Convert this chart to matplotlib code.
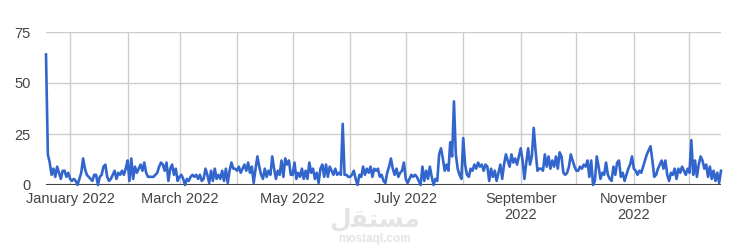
import pandas as pd
import matplotlib.pyplot as plt

plt.rcParams["font.family"] = ["Liberation Sans", "DejaVu Sans"]

# daily values, 19 Dec 2021 .. 18 Dec 2022
dec_2021 = [64, 15, 11, 5, 8, 4, 9, 6, 3, 7, 7, 4, 6]
jan = [3, 2, 3, 2, 0, 3, 6, 13, 8, 5, 4, 3, 2, 5, 5, 0, 4, 5, 9, 10, 4, 2, 3, 5, 7, 3, 6, 5, 7, 5, 8]
feb = [12, 2, 13, 3, 9, 6, 8, 10, 7, 11, 6, 4, 4, 4, 4, 5, 6, 9, 11, 10, 7, 11, 2, 8, 10, 5, 8, 2]
mar = [4, 5, 3, 0, 3, 2, 4, 5, 4, 5, 3, 5, 2, 3, 8, 5, 1, 7, 2, 8, 3, 5, 3, 7, 2, 8, 1, 7, 11, 8, 8]
apr = [7, 9, 6, 8, 10, 7, 11, 6, 9, 1, 8, 14, 9, 5, 3, 8, 4, 7, 5, 14, 8, 3, 7, 5, 12, 4, 13, 10, 12, 5]
may = [5, 11, 3, 6, 4, 8, 3, 7, 3, 11, 6, 8, 3, 6, 1, 8, 10, 4, 10, 4, 9, 7, 5, 8, 5, 6, 5, 30, 5, 5, 4]
jun = [4, 5, 7, 3, 0, 5, 4, 9, 5, 8, 6, 9, 4, 8, 7, 8, 4, 5, 2, 1, 6, 9, 13, 8, 5, 8, 4, 6, 7, 11]
jul = [3, 1, 3, 5, 4, 5, 4, 2, 0, 9, 2, 7, 3, 9, 4, 0, 3, 2, 15, 18, 13, 7, 10, 7, 21, 14, 41, 15, 8, 5, 3]
aug = [23, 10, 5, 4, 8, 7, 10, 8, 11, 9, 10, 7, 10, 9, 2, 8, 4, 7, 2, 6, 10, 3, 10, 15, 12, 9, 15, 11, 13, 10, 14]
sep = [18, 12, 3, 11, 18, 10, 14, 28, 17, 7, 8, 8, 7, 15, 9, 14, 8, 12, 9, 14, 8, 16, 14, 6, 5, 6, 9, 15, 12, 9]
oct_ = [7, 7, 9, 8, 10, 9, 12, 4, 12, 0, 2, 14, 9, 3, 6, 5, 11, 5, 3, 2, 9, 5, 11, 12, 4, 6, 2, 5, 8, 10, 14]
nov = [8, 7, 5, 7, 6, 9, 12, 15, 17, 19, 12, 4, 5, 8, 10, 12, 8, 12, 5, 2, 6, 5, 8, 3, 8, 6, 9, 7, 5, 8]
dec_2022 = [6, 22, 5, 12, 4, 10, 14, 12, 8, 10, 4, 9, 3, 7, 2, 6, 1, 7]

values = dec_2021 + jan + feb + mar + apr + may + jun + jul + aug + sep + oct_ + nov + dec_2022
dates = pd.date_range("2021-12-19", periods=len(values), freq="D")

month_ticks = pd.date_range("2022-01-01", "2022-12-01", freq="MS")
month_labels = ["January 2022", "", "March 2022", "", "May 2022", "", "July 2022", "",
                "September\n2022", "", "November\n2022", ""]
y_ticks = [0, 25, 50, 75]

fig = plt.figure(figsize=(7.52, 2.48), dpi=100)
ax = fig.add_axes([46 / 752, 63 / 248, 675 / 752, 153 / 248])

ax.plot(dates, values, color="#3366cc", lw=1.9, zorder=3, clip_on=False)
ax.axhline(0, color="#444444", lw=1.5, zorder=2)

ax.set_xlim(dates[0], dates[-1])
ax.set_ylim(0, 75)
ax.set_yticks(y_ticks)
ax.set_xticks(month_ticks)
ax.set_xticklabels(month_labels)
ax.grid(color="#cccccc", lw=1, zorder=1)
for s in ax.spines.values():
    s.set_visible(False)
ax.tick_params(length=0, labelsize=10.5, labelcolor="#444444")
ax.tick_params(axis="y", pad=11)
ax.tick_params(axis="x", pad=5)

# watermark
fig.text(375 / 752, 0.115, "\ufedd\ufed8\ufe98\ufeb4\ufee3", ha="center", va="center",
         fontsize=18, fontweight="bold", color="#e4e4e4", family="DejaVu Sans", zorder=0)
fig.text(375 / 752, 0.035, "mostaql.com", ha="center", va="center",
         fontsize=8.5, fontweight="bold", color="#e4e4e4", zorder=0)

fig.savefig("out.png", dpi=100)
